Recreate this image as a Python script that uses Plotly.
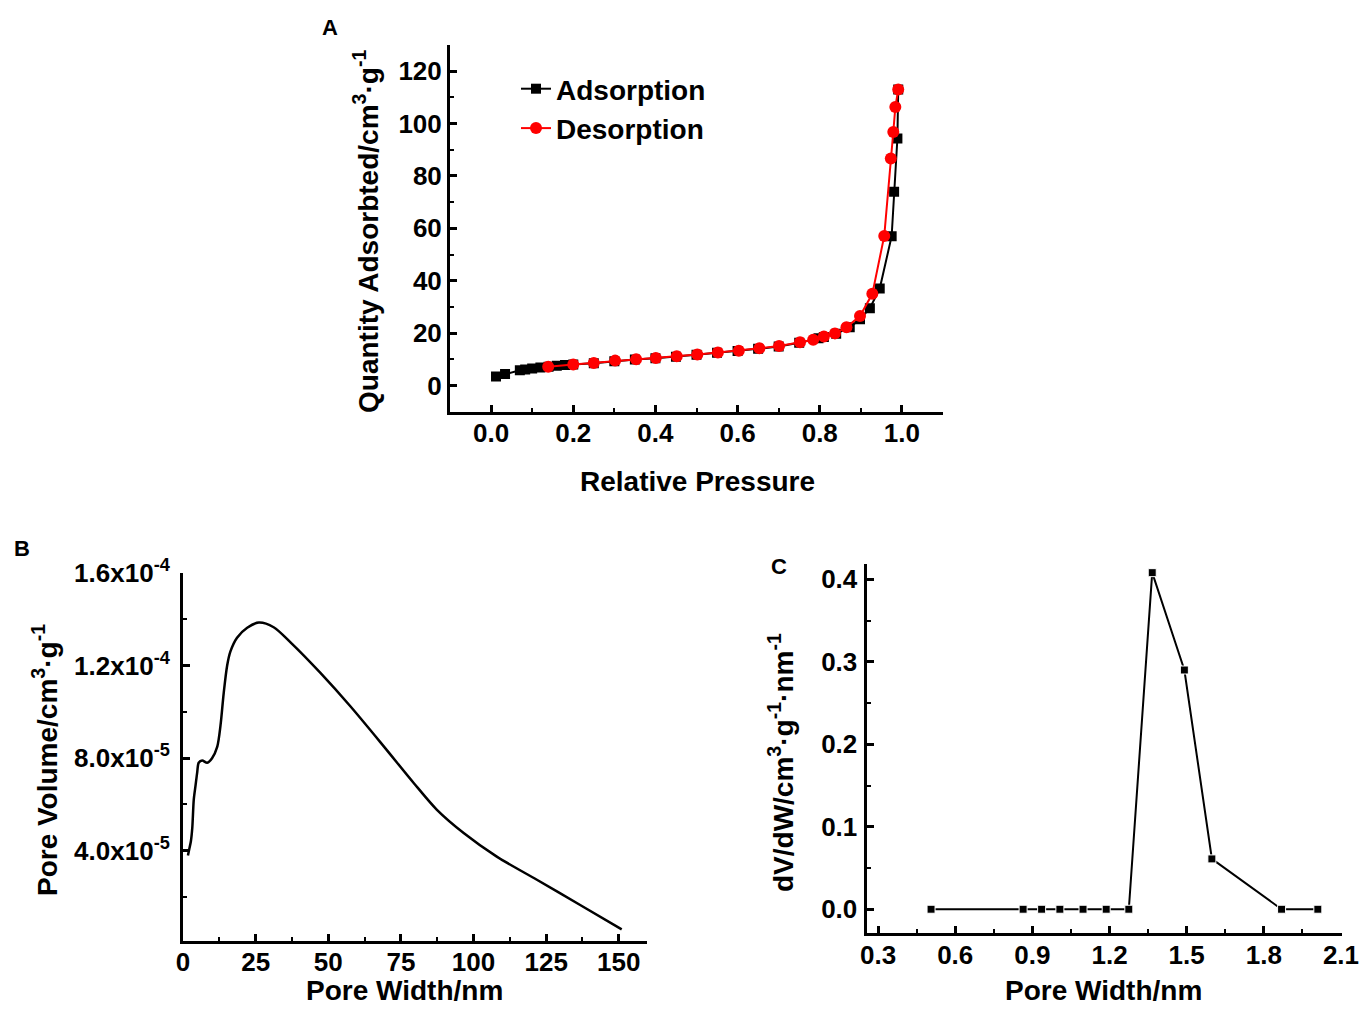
import plotly.graph_objects as go

# ---------------- Panel A: N2 adsorption/desorption isotherm ----------------
ads_p = [0.012, 0.034, 0.07, 0.083, 0.10, 0.12, 0.14, 0.16, 0.18, 0.20, 0.25, 0.30,
         0.35, 0.40, 0.45, 0.50, 0.55, 0.60, 0.65, 0.70, 0.75, 0.797, 0.81, 0.84,
         0.873, 0.898, 0.922, 0.946, 0.975, 0.981, 0.989, 0.991]
ads_q = [3.4, 4.4, 5.8, 6.1, 6.5, 6.9, 7.2, 7.5, 7.8, 8.0, 8.5, 9.3,
         9.9, 10.4, 11.0, 11.7, 12.5, 13.2, 14.0, 14.9, 16.3, 18.0, 18.5, 19.8,
         22.2, 25.3, 29.5, 37.0, 57.0, 74.0, 94.3, 113.0]
des_p = [0.991, 0.984, 0.979, 0.973, 0.957, 0.928, 0.898, 0.865, 0.837, 0.81,
         0.784, 0.752, 0.701, 0.653, 0.603, 0.552, 0.502, 0.452, 0.401, 0.353,
         0.302, 0.25, 0.2, 0.139]
des_q = [113.0, 106.3, 96.8, 86.7, 57.1, 35.0, 26.5, 22.2, 19.9, 18.7,
         17.5, 16.5, 15.1, 14.2, 13.3, 12.6, 11.8, 11.2, 10.5, 10.0,
         9.5, 8.6, 8.0, 7.2]

# ---------------- Panel B: pore volume vs pore width ----------------
b_width = [1.7, 2.2, 2.7, 3.2, 3.7, 4.3, 4.9, 5.4, 6.6, 8.3, 10.0, 11.8, 12.9, 14.0,
           15.2, 16.3, 18.6, 22.1, 26.1, 31.2, 37.0, 47.3, 57.6, 69.1, 79.4, 87.4,
           96.6, 108.0, 121.8, 136.7, 151.0]
b_volume = [3.8e-5, 4.1e-5, 4.4e-5, 5.0e-5, 6.2e-5, 6.8e-5, 7.4e-5, 7.8e-5, 7.9e-5,
            7.8e-5, 8.0e-5, 8.5e-5, 9.4e-5, 1.08e-4, 1.20e-4, 1.26e-4, 1.32e-4,
            1.363e-4, 1.385e-4, 1.365e-4, 1.30e-4, 1.168e-4, 1.024e-4, 8.51e-5,
            6.93e-5, 5.77e-5, 4.77e-5, 3.75e-5, 2.75e-5, 1.66e-5, 6.1e-6]
b_tickvals = [4.0e-5, 8.0e-5, 1.2e-4, 1.6e-4]
b_ticktext = ["4.0x10<sup>-5</sup>", "8.0x10<sup>-5</sup>",
              "1.2x10<sup>-4</sup>", "1.6x10<sup>-4</sup>"]

# ---------------- Panel C: dV/dW vs pore width ----------------
c_width = [0.506, 0.864, 0.936, 1.007, 1.097, 1.187, 1.275, 1.366, 1.491, 1.598, 1.869, 2.01]
c_dvdw = [0.0, 0.0, 0.0, 0.0, 0.0, 0.0, 0.0, 0.408, 0.29, 0.061, 0.0, 0.0]

FONT = "Liberation Sans, Arial, Helvetica, sans-serif"
W, H = 1359, 1009

fig = go.Figure()
fig.add_trace(go.Scatter(x=ads_p, y=ads_q, mode="lines+markers", name="Adsorption",
                         line=dict(color="black", width=2),
                         marker=dict(symbol="square", size=10, color="black"),
                         xaxis="x", yaxis="y"))
fig.add_trace(go.Scatter(x=des_p, y=des_q, mode="lines+markers", name="Desorption",
                         line=dict(color="#ff0000", width=2),
                         marker=dict(symbol="circle", size=12, color="#ff0000"),
                         xaxis="x", yaxis="y"))
fig.add_trace(go.Scatter(x=b_width, y=b_volume, mode="lines", showlegend=False,
                         line=dict(color="black", width=2.5, shape="spline", smoothing=0.8),
                         xaxis="x2", yaxis="y2"))
fig.add_trace(go.Scatter(x=c_width, y=c_dvdw, mode="lines+markers", showlegend=False,
                         line=dict(color="black", width=2),
                         marker=dict(symbol="square", size=8, color="black",
                                     line=dict(color="white", width=1)),
                         xaxis="x3", yaxis="y3"))

tickfont = dict(family=FONT, size=26, color="black", weight="bold")


def ax(domain, rng, anchor, **kw):
    d = dict(domain=domain, range=rng, anchor=anchor, showline=True, linewidth=3,
             linecolor="black", mirror=False, showgrid=False, zeroline=False,
             ticks="inside", ticklen=7, tickwidth=3, tickcolor="black",
             tickfont=tickfont, fixedrange=True, automargin=False)
    d.update(kw)
    return d


def px_x(p):
    return p / W


def px_y(p):
    return 1 - p / H


def minor(dt, t0=0):
    return dict(ticks="inside", ticklen=4, tickwidth=2, dtick=dt, tick0=t0,
                tickmode="linear", tickcolor="black", showgrid=False)


fig.update_layout(
    template="none",
    width=W, height=H, autosize=False,
    margin=dict(l=0, r=0, t=0, b=0, pad=0, autoexpand=False),
    paper_bgcolor="white", plot_bgcolor="white",
    font=dict(family=FONT, color="black"),
    xaxis=ax([px_x(450), px_x(943)], [-0.1, 1.1], "y", tick0=0, dtick=0.2,
             tickformat=".1f", ticklabelstandoff=-4, minor=minor(0.1)),
    yaxis=ax([px_y(411.7), px_y(45)], [-10, 130], "x", tick0=0, dtick=20,
             ticklabelstandoff=0, minor=minor(10)),
    xaxis2=ax([px_x(183), px_x(646.7)], [0, 159.6], "y2", tick0=0, dtick=25,
              ticklabelstandoff=-4, minor=minor(12.5)),
    yaxis2=ax([px_y(940.7), px_y(572.7)], [1.2e-6, 1.6005e-4], "x2",
              tickmode="array", tickvals=b_tickvals, ticktext=b_ticktext,
              ticklabelstandoff=5, minor=minor(2e-5)),
    xaxis3=ax([px_x(866.5), px_x(1341.5)], [0.255, 2.102], "y3", tick0=0.3, dtick=0.3,
              tickformat=".1f", ticklabelstandoff=-3, ticklabeloverflow="allow",
              minor=minor(0.15, 0.3)),
    yaxis3=ax([px_y(933), px_y(564)], [-0.0288, 0.4185], "x3", tick0=0, dtick=0.1,
              tickformat=".1f", ticklabelstandoff=1, minor=minor(0.05)),
    legend=dict(x=px_x(516), y=px_y(64), xanchor="left", yanchor="top",
                bgcolor="rgba(0,0,0,0)", borderwidth=0,
                font=dict(family=FONT, size=28, color="black", weight="bold"),
                tracegroupgap=0),
    showlegend=True,
)

title_font = dict(family=FONT, size=28, color="black", weight="bold")
label_font = dict(family=FONT, size=22, color="black", weight="bold")
annots = [
    ("Relative Pressure", 697, 481, 0, title_font),
    ("Quantity Adsorbted/cm<sup>3</sup>·g<sup>-1</sup>", 366, 232, -90, title_font),
    ("Pore Width/nm", 404, 990, 0, title_font),
    ("Pore Width/nm", 1103, 990, 0, title_font),
    ("Pore Volume/cm<sup>3</sup>·g<sup>-1</sup>", 45, 760, -90, title_font),
    ("dV/dW/cm<sup>3</sup>·g<sup>-1</sup>·nm<sup>-1</sup>", 781, 763, -90, title_font),
    ("A", 330, 27, 0, label_font),
    ("B", 22, 548, 0, label_font),
    ("C", 779, 566, 0, label_font),
]
for text, x, y, ang, f in annots:
    fig.add_annotation(text=text, x=px_x(x), y=px_y(y), xref="paper", yref="paper",
                       xanchor="center", yanchor="middle", showarrow=False,
                       textangle=ang, font=f)

fig.write_html("out.html", config={"displayModeBar": False},
               post_script="document.body.style.margin='0';document.body.style.overflow='hidden';")
